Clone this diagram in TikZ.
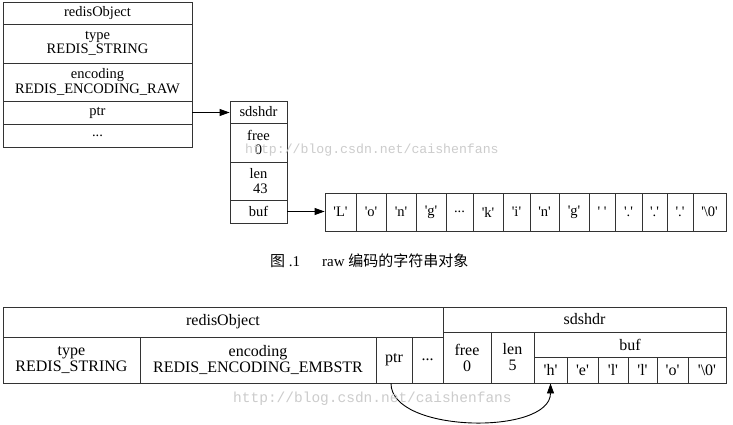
\documentclass[tikz,border=0pt]{standalone}
\usepackage{fontspec}
\setmainfont{Liberation Serif}
\setmonofont{Liberation Mono}
\newfontfamily\cjk{Noto Sans CJK SC}
\usetikzlibrary{arrows.meta}
\newcommand\q[1]{\textquotesingle#1\textquotesingle}
\newcommand\cell[7][]{%
  \pgfmathsetmacro\cellw{#5-#3}%
  \pgfmathsetmacro\cellh{#6-#4}%
  \node[box,#1,minimum width=\cellw pt,minimum height=\cellh pt] (#2) at ({(#3+#5)/2},{(#4+#6)/2}) {#7};%
}
\tikzset{
  box/.style={draw=black!80, line width=0.9pt, inner sep=0pt, align=center, anchor=center},
  topf/.style={font=\fontsize{14.5}{14.5}\selectfont},
  botf/.style={font=\fontsize{16}{16}\selectfont},
  arr/.style={draw=black, line width=0.9pt, -{Triangle[length=10pt,width=7pt]}},
  wm/.style={text=black!20, anchor=west, inner sep=0pt}
}
\begin{document}
\begin{tikzpicture}[x=1pt,y=-1pt]
\fill[white] (0,0) rectangle (733,425);
\useasboundingbox (0,0) rectangle (733,425);
% top redisObject
\cell[topf]{ro_title}{3}{2}{192}{24}{redisObject}
\cell[topf]{ro_type}{3}{24}{192}{63}{type\\REDIS\_STRING}
\cell[topf]{ro_enc}{3}{63}{192}{101}{encoding\\REDIS\_ENCODING\_RAW}
\cell[topf]{ro_ptr}{3}{101}{192}{124}{ptr}
\cell[topf]{ro_dots}{3}{124}{192}{147}{...}
% sdshdr
\cell[topf]{sd_title}{230}{101}{287}{123}{sdshdr}
\cell[topf]{sd_free}{230}{123}{287}{162}{free\\0}
\cell[topf]{sd_len}{230}{162}{287}{200}{len\\\ 43}
\cell[topf]{sd_buf}{230}{200}{287}{223}{buf}
% char array
\cell[topf]{c1}{325}{193}{356}{231}{\q{L}}
\cell[topf]{c2}{356}{193}{386}{231}{\q{o}}
\cell[topf]{c3}{386}{193}{416}{231}{\q{n}}
\cell[topf]{c4}{416}{193}{446}{231}{\q{g}}
\cell[topf]{c5}{446}{193}{473}{231}{...}
\cell[topf]{c6}{473}{193}{503}{231}{\q{k}}
\cell[topf]{c7}{503}{193}{530}{231}{\q{i}}
\cell[topf]{c8}{530}{193}{559}{231}{\q{n}}
\cell[topf]{c9}{559}{193}{589}{231}{\q{g}}
\cell[topf]{c10}{589}{193}{615}{231}{\q{\ }}
\cell[topf]{c11}{615}{193}{642}{231}{\q{.}}
\cell[topf]{c12}{642}{193}{667}{231}{\q{.}}
\cell[topf]{c13}{667}{193}{693}{231}{\q{.}}
\cell[topf]{c14}{693}{193}{726}{231}{\q{\textbackslash 0}}
\draw[arr] (ro_ptr.east) -- (ro_ptr.east -| sd_title.west);
\draw[arr] (sd_buf.east) -- (sd_buf.east -| c1.west);
% caption
\node[font=\fontsize{15}{15}\selectfont, anchor=west, inner sep=0pt] (figno) at (270,261) {{\cjk 图} .1};
\node[font=\fontsize{15}{15}\selectfont, anchor=west, inner sep=0pt] (cap) at (322,261) {raw {\cjk 编码的字符串对象}};
% bottom embstr
\cell[botf]{b_ro}{3}{307}{443}{337}{redisObject}
\cell[botf]{b_type}{3}{337}{140}{383}{type\\REDIS\_STRING}
\cell[botf]{b_enc}{140}{337}{376}{383}{encoding\\REDIS\_ENCODING\_EMBSTR}
\cell[botf]{b_ptr}{376}{337}{412}{383}{ptr}
\cell[botf]{b_dots}{412}{337}{443}{383}{...}
\cell[botf]{b_sds}{443}{307}{726}{332}{sdshdr}
\cell[botf]{b_free}{443}{332}{491}{383}{free\\0}
\cell[botf]{b_len}{491}{332}{534}{383}{len\\5}
\cell[botf]{b_buf}{534}{332}{726}{357}{buf}
\cell[botf]{h1}{534}{357}{567}{383}{\q{h}}
\cell[botf]{h2}{567}{357}{598}{383}{\q{e}}
\cell[botf]{h3}{598}{357}{628}{383}{\q{l}}
\cell[botf]{h4}{628}{357}{657}{383}{\q{l}}
\cell[botf]{h5}{657}{357}{688}{383}{\q{o}}
\cell[botf]{h6}{688}{357}{726}{383}{\q{\textbackslash 0}}
\draw[arr] ([xshift=-3pt]b_ptr.south) .. controls +(0,50) and +(0,52) .. (h1.south);
% watermarks
\node[wm, font=\ttfamily\fontsize{13.2}{13.2}\selectfont] (wm1) at (245,150) {http://blog.csdn.net/caishenfans};
\node[wm, font=\ttfamily\fontsize{14.5}{14.5}\selectfont] (wm2) at (233,399) {http://blog.csdn.net/caishenfans};
\end{tikzpicture}
\end{document}
